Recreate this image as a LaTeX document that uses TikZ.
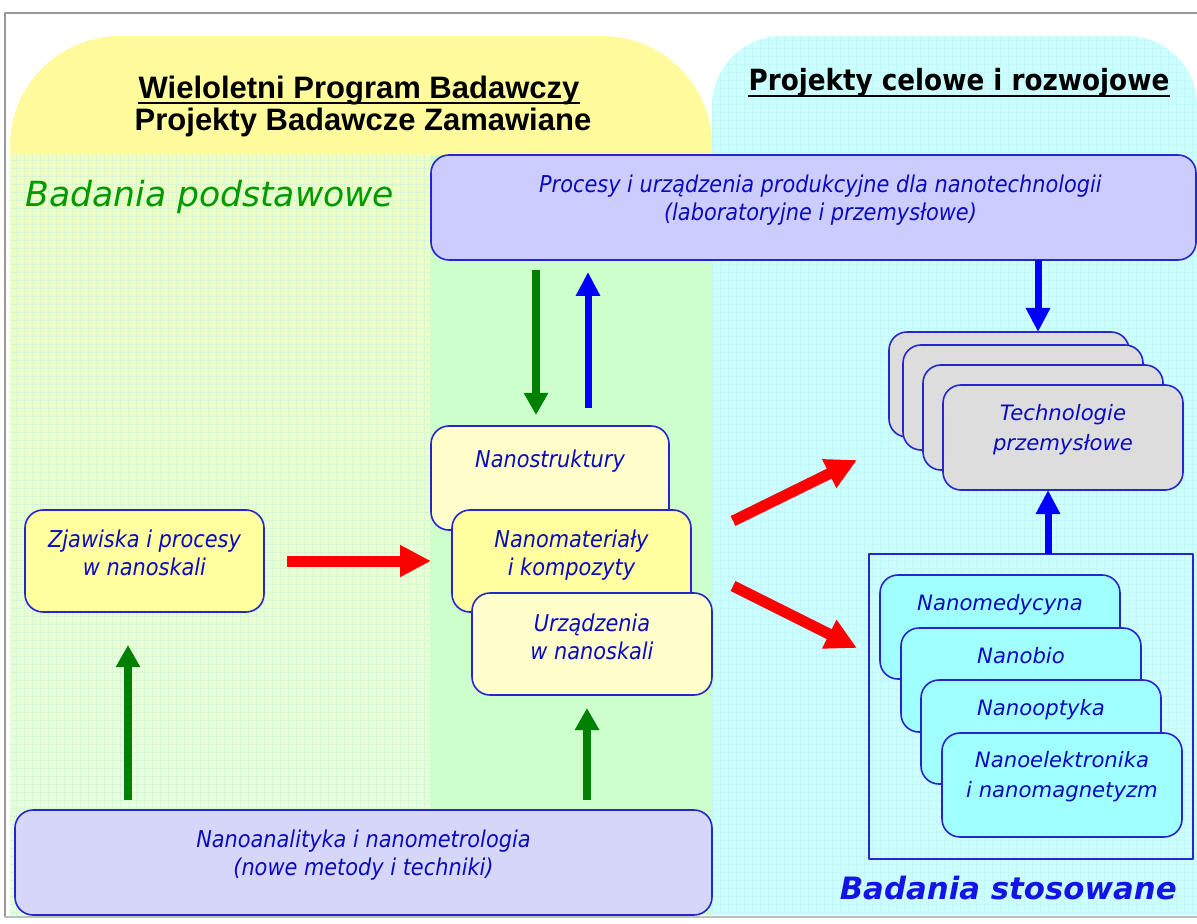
\documentclass[tikz,border=0pt]{standalone}
\usepackage{fontspec}
\setmainfont{Liberation Sans}
\newfontfamily\verd{DejaVu Sans}
\newfontfamily\tahoma{DejaVu Sans Condensed}
\usetikzlibrary{arrows.meta,positioning}

\definecolor{topyellow}{HTML}{FFFB9D}
\definecolor{leftgreentop}{HTML}{EEFFC0}
\definecolor{leftgreenbot}{HTML}{E4FFE2}
\definecolor{gridgreen}{HTML}{D6F7D6}
\definecolor{gridcyan}{HTML}{C4F7F7}
\definecolor{midgreen}{HTML}{CCFFCC}
\definecolor{rightcyan}{HTML}{CCFFFF}
\definecolor{lavender}{HTML}{CCCCFF}
\definecolor{palelav}{HTML}{D6D6FB}
\definecolor{boxblue}{HTML}{2626CC}
\definecolor{textblue}{HTML}{0A0ABE}
\definecolor{paleyellow}{HTML}{FFFFCC}
\definecolor{yellowbox}{HTML}{FFFF9F}
\definecolor{techgray}{HTML}{DDDDDD}
\definecolor{aqua}{HTML}{A0FFFF}
\definecolor{arrowgreen}{HTML}{008000}
\definecolor{titlegreen}{HTML}{009900}
\definecolor{titleblue}{HTML}{1414E6}

\begin{document}
\begin{tikzpicture}[x=0.5pt, y=-0.5pt, line join=round,
    panel/.style={draw=boxblue, line width=0.8pt, rounded corners=9pt,
      inner sep=0pt, outer sep=0pt, anchor=north west},
    tahtext/.style={text=textblue, align=center, inner sep=0pt,
      font=\tahoma\itshape\fontsize{11.6}{14}\selectfont},
    verdtext/.style={text=textblue, align=center, inner sep=0pt,
      font=\verd\itshape\fontsize{10.6}{15}\selectfont},
    heading/.style={anchor=base, inner sep=0pt},
    redarrow/.style={draw=red, line width=5.5pt, -{Triangle[length=15.5pt, width=15pt]}},
    greenarrow/.style={draw=arrowgreen, line width=4pt, -{Triangle[length=11pt, width=11.5pt]}},
    bluearrow/.style={draw=blue, line width=3.5pt, -{Triangle[length=12pt, width=11.5pt]}}]
    \useasboundingbox (0,0) rectangle (1197,924);
    % backgrounds
    \fill[white] (0,0) rectangle (1197,924);
    \fill[topyellow, rounded corners=55pt] (10,36) rectangle (712,400);
    \fill[rightcyan, rounded corners=35pt] (712,36) rectangle (1197,600);
    \fill[rightcyan] (712,300) rectangle (1197,915);
    \begin{scope}
        \clip[rounded corners=35pt] (712,36) rectangle (1197,600) [sharp corners] (712,300) rectangle (1197,915);
        \draw[gridcyan, line width=0.25pt, step=4pt] (712,36) grid (1197,915);
    \end{scope}
    \shade[top color=leftgreentop, bottom color=leftgreenbot] (10,155) rectangle (430,915);
    \draw[gridgreen, line width=0.25pt, step=4pt] (10,155) grid (430,915);
    \fill[midgreen] (430,155) rectangle (712,915);
    \draw[gray!80, line width=0.8pt] (5,917) -- (5,13) -- (1197,13);
    \draw[gray!50, line width=0.6pt] (5,917) -- (1197,917);

    % titles
    \node[heading, font=\bfseries\fontsize{15.5}{15}\selectfont] (wpb) at (359,99)
        {Wieloletni Program Badawczy};
    \node[heading, font=\bfseries\fontsize{15.5}{15}\selectfont] (pbz) at (363,131)
        {Projekty Badawcze Zamawiane};
    \node[heading, font=\tahoma\bfseries\fontsize{14.6}{15}\selectfont] (pcr) at (959,91)
        {Projekty celowe i rozwojowe};
    \draw[line width=1pt] ([yshift=-2.2pt]wpb.base west) -- ([yshift=-2.2pt]wpb.base east);
    \draw[line width=1.1pt] ([yshift=-2.6pt]pcr.base west) -- ([yshift=-2.6pt]pcr.base east);
    \node[anchor=base west, inner sep=0pt, text=titlegreen, font=\verd\itshape\fontsize{17.3}{18}\selectfont] (podst) at (25,207)
        {Badania podstawowe};
    \node[anchor=base east, inner sep=0pt, text=titleblue, font=\verd\bfseries\itshape\fontsize{15.4}{18}\selectfont] (stos) at (1177,899)
        {Badania stosowane};

    % boxes
    \node[panel, fill=lavender, minimum width=382.5pt, minimum height=52.5pt] (procbox) at (431,155) {};
    \node[panel, fill=palelav, minimum width=348.5pt, minimum height=52.5pt] (nanoan) at (15,810) {};
    \node[panel, fill=yellowbox, minimum width=119.5pt, minimum height=51pt] (zjaw) at (25,510) {};
    \node[panel, fill=paleyellow, minimum width=119pt, minimum height=52pt] (nanostr) at (431,426) {};
    \node[panel, fill=yellowbox, minimum width=119.5pt, minimum height=51pt] (nanomat) at (452,510) {};
    \node[panel, fill=paleyellow, minimum width=120pt, minimum height=51pt] (urzadz) at (472,593) {};
    \foreach \n/\x/\y in {1/889/332, 2/903/345, 3/923/365, 4/943/385}
        \node[panel, fill=techgray, minimum width=120pt, minimum height=52.5pt] (tech\n) at (\x,\y) {};
    \node[draw=boxblue, line width=0.6pt, inner sep=0pt, outer sep=0pt, anchor=north west,
        minimum width=162pt, minimum height=152.5pt] (stosframe) at (869,554) {};
    \foreach \name/\x/\y in {med/880/575, bio/901/628, opt/921/680, elek/942/733}
        \node[panel, fill=aqua, minimum width=120pt, minimum height=52pt] (\name) at (\x,\y) {};

    % box texts
    \node[tahtext, below=9.5pt of procbox.north, xshift=3.5pt] (proctxt)
        {Procesy i urządzenia produkcyjne dla nanotechnologii\\(laboratoryjne i przemysłowe)};
    \node[tahtext, below=9.5pt of nanoan.north] (nanoantxt)
        {Nanoanalityka i nanometrologia\\(nowe metody i techniki)};
    \node[tahtext, below=9.5pt of zjaw.north] (zjawtxt) {Zjawiska i procesy\\w nanoskali};
    \node[tahtext, below=11.5pt of nanostr.north] (nanostrtxt) {Nanostruktury};
    \node[tahtext, below=9.5pt of nanomat.north] (nanomattxt) {Nanomateriały\\i kompozyty};
    \node[tahtext, below=10pt of urzadz.north] (urzadztxt) {Urządzenia\\w nanoskali};
    \node[verdtext, below=9.5pt of tech4.north] (techtxt) {Technologie\\przemysłowe};
    \node[verdtext, below=9.5pt of med.north] (medtxt) {Nanomedycyna};
    \node[verdtext, below=9.5pt of bio.north] (biotxt) {Nanobio};
    \node[verdtext, below=9.5pt of opt.north] (opttxt) {Nanooptyka};
    \node[verdtext, below=9pt of elek.north] (elektxt) {Nanoelektronika\\i nanomagnetyzm};

    % arrows
    \coordinate (gdown) at (536,0);
    \coordinate (bup) at (588,0);
    \coordinate (gleft) at (128,0);
    \coordinate (gright) at (587,0);
    \coordinate (bdown) at (1038,0);
    \coordinate (bright) at (1048,0);
    \coordinate (rtop1) at (733,521);
    \coordinate (rtop2) at (857,460);
    \coordinate (rbot1) at (733,586);
    \coordinate (rbot2) at (857,648);
    \draw[greenarrow, shorten <=5pt, shorten >=5.5pt] (gdown |- procbox.south) -- (gdown |- nanostr.north);
    \draw[bluearrow, shorten <=9pt, shorten >=6pt] (bup |- nanostr.north) -- (bup |- procbox.south);
    \draw[redarrow, shorten <=11.5pt] (zjaw.east) -- (zjaw.east -| nanostr.west);
    \draw[greenarrow, shorten <=5pt, shorten >=16.5pt] (gleft |- nanoan.north) -- (gleft |- zjaw.south);
    \draw[greenarrow, shorten <=5pt, shorten >=6.5pt] (gright |- nanoan.north) -- (gright |- urzadz.south);
    \draw[bluearrow] (bdown |- procbox.south) -- (bdown |- tech1.north);
    \draw[bluearrow] (bright |- stosframe.north) -- (bright |- tech4.south);
    \draw[redarrow] (rtop1) -- (rtop2);
    \draw[redarrow] (rbot1) -- (rbot2);
\end{tikzpicture}
\end{document}
